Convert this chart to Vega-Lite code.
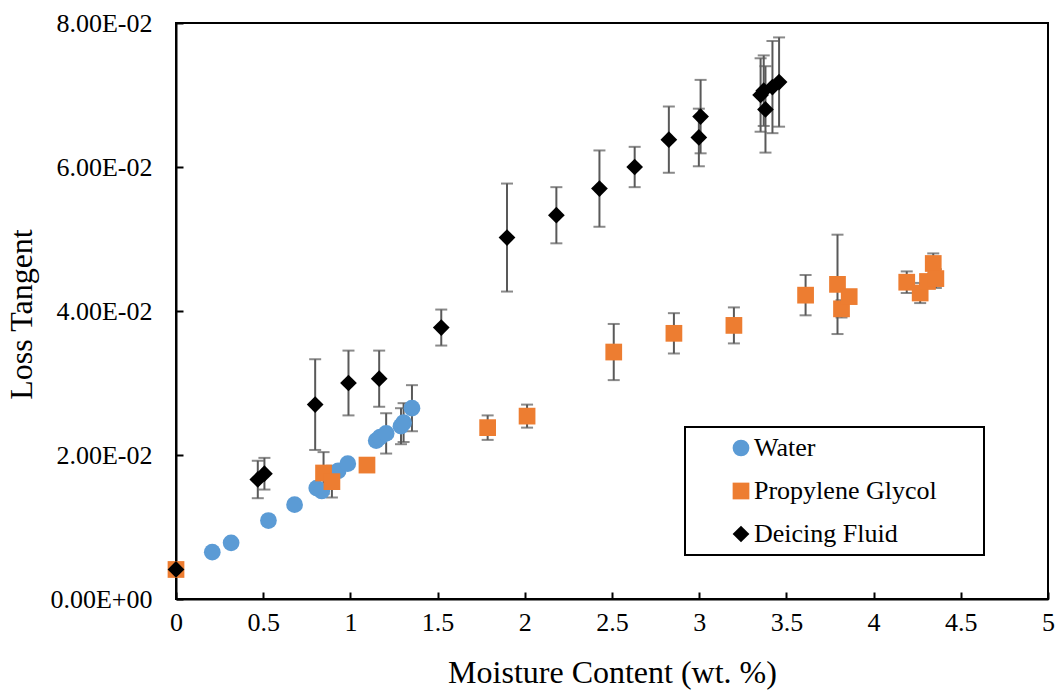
{
  "$schema": "https://vega.github.io/schema/vega-lite/v6.json",
  "width": 872,
  "height": 576,
  "autosize": {"type": "none"},
  "padding": {"left": 176, "top": 23, "right": 7, "bottom": 91},
  "background": "white",
  "config": {
    "font": "Liberation Serif",
    "view": {"stroke": "black", "strokeWidth": 2},
    "axis": {"grid": false, "domainColor": "black", "domainWidth": 2, "tickColor": "black", "tickWidth": 2, "labelColor": "black", "titleColor": "black", "labelFont": "Liberation Serif", "titleFont": "Liberation Serif", "titleFontWeight": "normal", "labelFontSize": 26, "titleFontSize": 32}
  },
  "data": {
    "values": [
      {"series": "Water", "x": 0.208, "y": 0.0065, "err": null},
      {"series": "Water", "x": 0.316, "y": 0.0078, "err": null},
      {"series": "Water", "x": 0.53, "y": 0.0109, "err": null},
      {"series": "Water", "x": 0.68, "y": 0.0131, "err": null},
      {"series": "Water", "x": 0.807, "y": 0.0154, "err": null},
      {"series": "Water", "x": 0.836, "y": 0.015, "err": null},
      {"series": "Water", "x": 0.93, "y": 0.0178, "err": null},
      {"series": "Water", "x": 0.985, "y": 0.0188, "err": null},
      {"series": "Water", "x": 1.148, "y": 0.022, "err": null},
      {"series": "Water", "x": 1.171, "y": 0.0225, "err": null},
      {"series": "Water", "x": 1.205, "y": 0.023, "err": 0.0028},
      {"series": "Water", "x": 1.29, "y": 0.024, "err": 0.0025},
      {"series": "Water", "x": 1.305, "y": 0.0245, "err": 0.0027},
      {"series": "Water", "x": 1.353, "y": 0.0265, "err": 0.0032},
      {"series": "Propylene Glycol", "x": 0.0, "y": 0.0041, "err": null},
      {"series": "Propylene Glycol", "x": 0.846, "y": 0.0175, "err": 0.0029},
      {"series": "Propylene Glycol", "x": 0.894, "y": 0.0163, "err": 0.0022},
      {"series": "Propylene Glycol", "x": 1.095, "y": 0.0186, "err": null},
      {"series": "Propylene Glycol", "x": 1.787, "y": 0.0238, "err": 0.0017},
      {"series": "Propylene Glycol", "x": 2.013, "y": 0.0254, "err": 0.0016},
      {"series": "Propylene Glycol", "x": 2.51, "y": 0.0343, "err": 0.0039},
      {"series": "Propylene Glycol", "x": 2.855, "y": 0.0369, "err": 0.0028},
      {"series": "Propylene Glycol", "x": 3.199, "y": 0.038, "err": 0.0025},
      {"series": "Propylene Glycol", "x": 3.61, "y": 0.0422, "err": 0.0028},
      {"series": "Propylene Glycol", "x": 3.793, "y": 0.0437, "err": 0.0069},
      {"series": "Propylene Glycol", "x": 3.816, "y": 0.0403, "err": 0.0012},
      {"series": "Propylene Glycol", "x": 3.86, "y": 0.042, "err": null},
      {"series": "Propylene Glycol", "x": 4.19, "y": 0.044, "err": 0.0015},
      {"series": "Propylene Glycol", "x": 4.267, "y": 0.0425, "err": 0.0014},
      {"series": "Propylene Glycol", "x": 4.309, "y": 0.0441, "err": null},
      {"series": "Propylene Glycol", "x": 4.342, "y": 0.0466, "err": 0.0014},
      {"series": "Propylene Glycol", "x": 4.357, "y": 0.0445, "err": 0.0013},
      {"series": "Deicing Fluid", "x": 0.0, "y": 0.0041, "err": null},
      {"series": "Deicing Fluid", "x": 0.469, "y": 0.0166, "err": 0.0026},
      {"series": "Deicing Fluid", "x": 0.507, "y": 0.0174, "err": 0.0022},
      {"series": "Deicing Fluid", "x": 0.798, "y": 0.027, "err": 0.0063},
      {"series": "Deicing Fluid", "x": 0.989, "y": 0.03, "err": 0.0045},
      {"series": "Deicing Fluid", "x": 1.165, "y": 0.0306, "err": 0.0039},
      {"series": "Deicing Fluid", "x": 1.521, "y": 0.0377, "err": 0.0025},
      {"series": "Deicing Fluid", "x": 1.898, "y": 0.0502, "err": 0.0075},
      {"series": "Deicing Fluid", "x": 2.181, "y": 0.0533, "err": 0.0039},
      {"series": "Deicing Fluid", "x": 2.428, "y": 0.057, "err": 0.0053},
      {"series": "Deicing Fluid", "x": 2.63, "y": 0.06, "err": 0.0028},
      {"series": "Deicing Fluid", "x": 2.826, "y": 0.0638, "err": 0.0046},
      {"series": "Deicing Fluid", "x": 2.998, "y": 0.0641, "err": 0.004},
      {"series": "Deicing Fluid", "x": 3.008, "y": 0.067, "err": 0.0051},
      {"series": "Deicing Fluid", "x": 3.352, "y": 0.07, "err": 0.0051},
      {"series": "Deicing Fluid", "x": 3.37, "y": 0.0706, "err": 0.0049},
      {"series": "Deicing Fluid", "x": 3.38, "y": 0.068, "err": 0.006},
      {"series": "Deicing Fluid", "x": 3.42, "y": 0.0711, "err": 0.0064},
      {"series": "Deicing Fluid", "x": 3.458, "y": 0.0718, "err": 0.0062}
    ]
  },
  "layer": [
    {
      "transform": [{"filter": "isValid(datum.err)"}],
      "mark": {"type": "errorbar", "color": "#595959", "thickness": 2, "ticks": {"size": 12, "thickness": 2, "color": "#595959"}},
      "encoding": {
        "x": {"field": "x", "type": "quantitative", "title": "Moisture Content (wt. %)"},
        "y": {"field": "y", "type": "quantitative", "title": "Loss Tangent"},
        "yError": {"field": "err"}
      }
    },
    {
      "mark": {"type": "point", "filled": true, "size": 280, "opacity": 1, "strokeWidth": 0},
      "encoding": {
        "x": {
          "field": "x", "type": "quantitative", "title": "Moisture Content (wt. %)",
          "scale": {"domain": [0, 5], "nice": false, "zero": false},
          "axis": {"values": [0, 0.5, 1, 1.5, 2, 2.5, 3, 3.5, 4, 4.5, 5], "format": "~g", "tickSize": -7, "labelPadding": 17, "labelFontSize": 26, "labelFlush": false, "labelOverlap": false, "titleY": 83, "titleBaseline": "alphabetic"}
        },
        "y": {
          "field": "y", "type": "quantitative", "title": "Loss Tangent",
          "scale": {"domain": [0, 0.08], "nice": false},
          "axis": {"values": [0, 0.02, 0.04, 0.06, 0.08], "labelExpr": "datum.value == 0 ? '0.00E+00' : format(datum.value * 100, '.2f') + 'E-02'", "tickSize": -7, "labelPadding": 31, "labelFontSize": 26, "labelFlush": false, "labelOverlap": false, "titleX": -155, "titleY": 291, "titleAngle": -90, "titleAlign": "center", "titleBaseline": "middle"}
        },
        "color": {
          "field": "series", "type": "nominal",
          "scale": {"domain": ["Water", "Propylene Glycol", "Deicing Fluid"], "range": ["#5B9BD5", "#ED7D31", "#000000"]},
          "legend": {"title": null, "orient": "none", "legendX": 509, "legendY": 404, "fillColor": "white", "strokeColor": "black", "padding": 8, "symbolOffset": 35, "labelOffset": 0, "labelFontSize": 26, "labelFont": "Liberation Serif", "labelColor": "black", "symbolSize": 280, "symbolStrokeWidth": 0, "symbolOpacity": 1, "rowPadding": 17, "labelExpr": "datum.label + '\u00a0\u00a0\u00a0\u00a0\u00a0\u00a0\u200b'", "labelLimit": 400, "encode": {"legend": {"update": {"strokeWidth": {"value": 2}}}}}
        },
        "shape": {
          "field": "series", "type": "nominal",
          "scale": {"domain": ["Water", "Propylene Glycol", "Deicing Fluid"], "range": ["circle", "square", "diamond"]}
        }
      }
    }
  ]
}
